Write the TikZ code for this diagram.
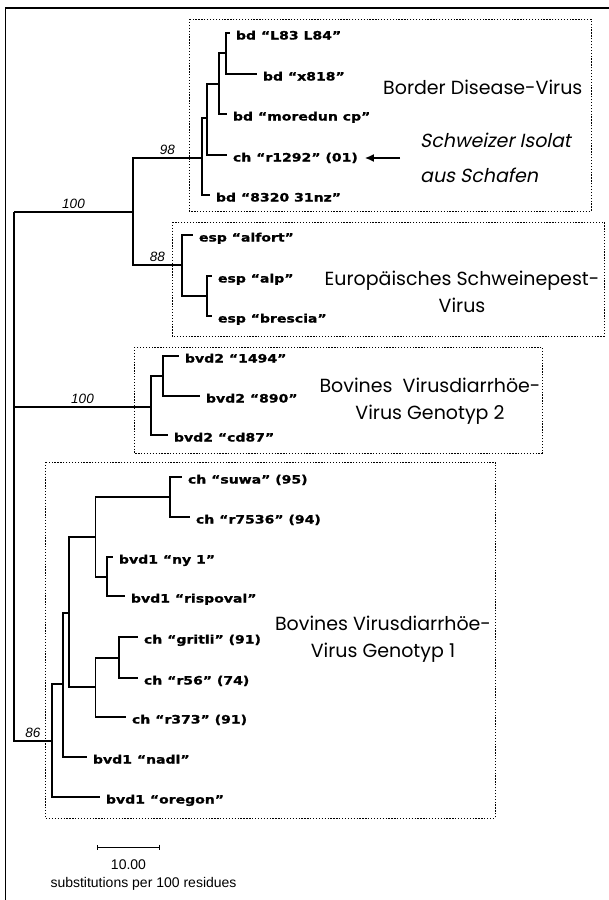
\documentclass[tikz,border=0pt]{standalone}
\usepackage{fontspec}
\setmainfont{Liberation Sans}
\newfontfamily\leaffont[FakeStretch=1.22,BoldFeatures={FakeBold=1.2}]{DejaVu Sans}
\newfontfamily\cladefont{Poppins}
\newfontfamily\cladeitfont[FakeSlant=0.2]{Poppins}
\usetikzlibrary{arrows.meta,positioning}

\begin{document}
\begin{tikzpicture}[x=1pt,y=-1pt,
  branch/.style={line width=1.1pt},
  leaf/.style={anchor=west,inner xsep=0pt,outer xsep=6pt,inner ysep=0pt,text height=13pt,text depth=0pt,font=\leaffont\bfseries\fontsize{11.5}{13}\selectfont},
  boot/.style={midway,above=3pt,inner sep=0pt,font=\itshape\fontsize{13.5}{15}\selectfont},
  clade/.style={line width=0.9pt,dash pattern=on 1.3pt off 1.6pt},
  group/.style={inner sep=0pt,align=center,font=\cladefont\fontsize{19}{27}\selectfont},
  scaletext/.style={font=\fontsize{14}{16}\selectfont}]
\useasboundingbox (0,0) rectangle (609,900);
% ==================== FRAME ====================
\draw[line width=1.3pt] (5.5,900) -- (5.5,8) -- (609,8);
% ==================== CLADE BOXES ====================
\draw[clade] (189,19) rectangle (591,211);
\draw[clade] (172,222) rectangle (604,336);
\draw[clade] (134,347) rectangle (542,453);
\draw[clade] (45.5,462) rectangle (495,818);
% ==================== INNER NODES ====================
\coordinate (root) at (14,212);
\coordinate (n100a) at (133,212);
\coordinate (n98) at (202,158);
\coordinate (nbdA) at (207,118);
\coordinate (nbdB) at (219,84);
\coordinate (nbdC) at (226,53);
\coordinate (n88) at (182,265);
\coordinate (nesp) at (207,296);
\coordinate (n100b) at (151,407);
\coordinate (nbvd) at (163,376);
\coordinate (n86) at (52,741);
\coordinate (nv1) at (63,684);
\coordinate (nv2) at (69,613);
\coordinate (nv3) at (95.5,537);
\coordinate (nv4) at (170,497);
\coordinate (nv5) at (107,577);
\coordinate (nv6) at (95.5,687);
\coordinate (nv7) at (119,658);
% ==================== LEAVES ====================
% Border Disease
\node[leaf] (l83) at (230,33) {bd “L83 L84”};
\node[leaf] (x818) at (257,74) {bd “x818”};
\node[leaf] (moredun) at (227,114) {bd “moredun cp”};
\node[leaf] (r1292) at (227,155) {ch “r1292” (01)};
\node[leaf] (s8320) at (210,195) {bd “8320 31nz”};
% Schweinepest
\node[leaf] (alfort) at (193,235) {esp “alfort”};
\node[leaf] (alp) at (212,276) {esp “alp”};
\node[leaf] (brescia) at (212,316) {esp “brescia”};
% BVD Genotyp 2
\node[leaf] (b1494) at (179,356) {bvd2 “1494”};
\node[leaf] (b890) at (200,396) {bvd2 “890”};
\node[leaf] (cd87) at (168,435) {bvd2 “cd87”};
% BVD Genotyp 1
\node[leaf] (suwa) at (182,477) {ch “suwa” (95)};
\node[leaf] (r7536) at (190,517) {ch “r7536” (94)};
\node[leaf] (ny1) at (113,557) {bvd1 “ny 1”};
\node[leaf] (rispoval) at (125,596) {bvd1 “rispoval”};
\node[leaf] (gritli) at (138,637) {ch “gritli” (91)};
\node[leaf] (r56) at (138,678) {ch “r56” (74)};
\node[leaf] (r373) at (126,717) {ch “r373” (91)};
\node[leaf] (nadl) at (87,757) {bvd1 “nadl”};
\node[leaf] (oregon) at (100,797) {bvd1 “oregon”};
% ==================== BRANCHES ====================
\foreach \p/\c in {root/n100a, root/n100b, root/n86,
    n100a/n98, n100a/n88,
    n98/nbdA, n98/s8320.west, nbdA/nbdB, nbdA/r1292.west,
    nbdB/nbdC, nbdB/moredun.west, nbdC/l83.west, nbdC/x818.west,
    n88/alfort.west, n88/nesp, nesp/alp.west, nesp/brescia.west,
    n100b/nbvd, n100b/cd87.west, nbvd/b1494.west, nbvd/b890.west,
    n86/nv1, n86/oregon.west, nv1/nv2, nv1/nadl.west,
    nv2/nv3, nv2/nv6, nv3/nv4, nv3/nv5,
    nv4/suwa.west, nv4/r7536.west, nv5/ny1.west, nv5/rispoval.west,
    nv6/nv7, nv6/r373.west, nv7/gritli.west, nv7/r56.west}
  \draw[branch] (\p) |- (\c);
% Bootstrap values
\path (root) -- (n100a) node[boot] {100};
\path (n98 -| n100a) -- (n98) node[boot] {98};
\path (n88 -| n100a) -- (n88) node[boot] {88};
\path (n100b -| root) -- (n100b) node[boot] {100};
\path (n86 -| root) -- (n86) node[boot] {86};
% ==================== GROUP NAMES ====================
\node[group,anchor=west] (bdv) at (383,87) {Border Disease-Virus};
\node[group,anchor=west,align=left,font=\cladeitfont\fontsize{19}{35}\selectfont] (isolat) at (420,158) {Schweizer Isolat\\aus Schafen};
\draw[-{Latex[length=9pt,width=8pt]},line width=1.6pt,shorten <=20pt,shorten >=1pt] (isolat.west) -- (isolat.west -| r1292.east);
\node[group] (espv) at (462,292) {Europäisches Schweinepest-\\Virus};
\node[group] (bvd2v) at (430,401) {Bovines~ Virusdiarrhöe-\\Virus Genotyp 2};
\node[group] (bvd1v) at (383,639) {Bovines Virusdiarrhöe-\\Virus Genotyp 1};
% ==================== SCALE BAR ====================
\coordinate (sbL) at (97,847);
\coordinate (sbR) at (160,847);
\draw[{Bar[width=5pt]}-{Bar[width=5pt]},line width=1pt] (sbL) -- (sbR);
\node[scaletext] (sbval) at (128.5,865) {10.00};
\node[scaletext,below=0pt of sbval,xshift=15pt] (sbunit) {substitutions per 100 residues};
\end{tikzpicture}
\end{document}
